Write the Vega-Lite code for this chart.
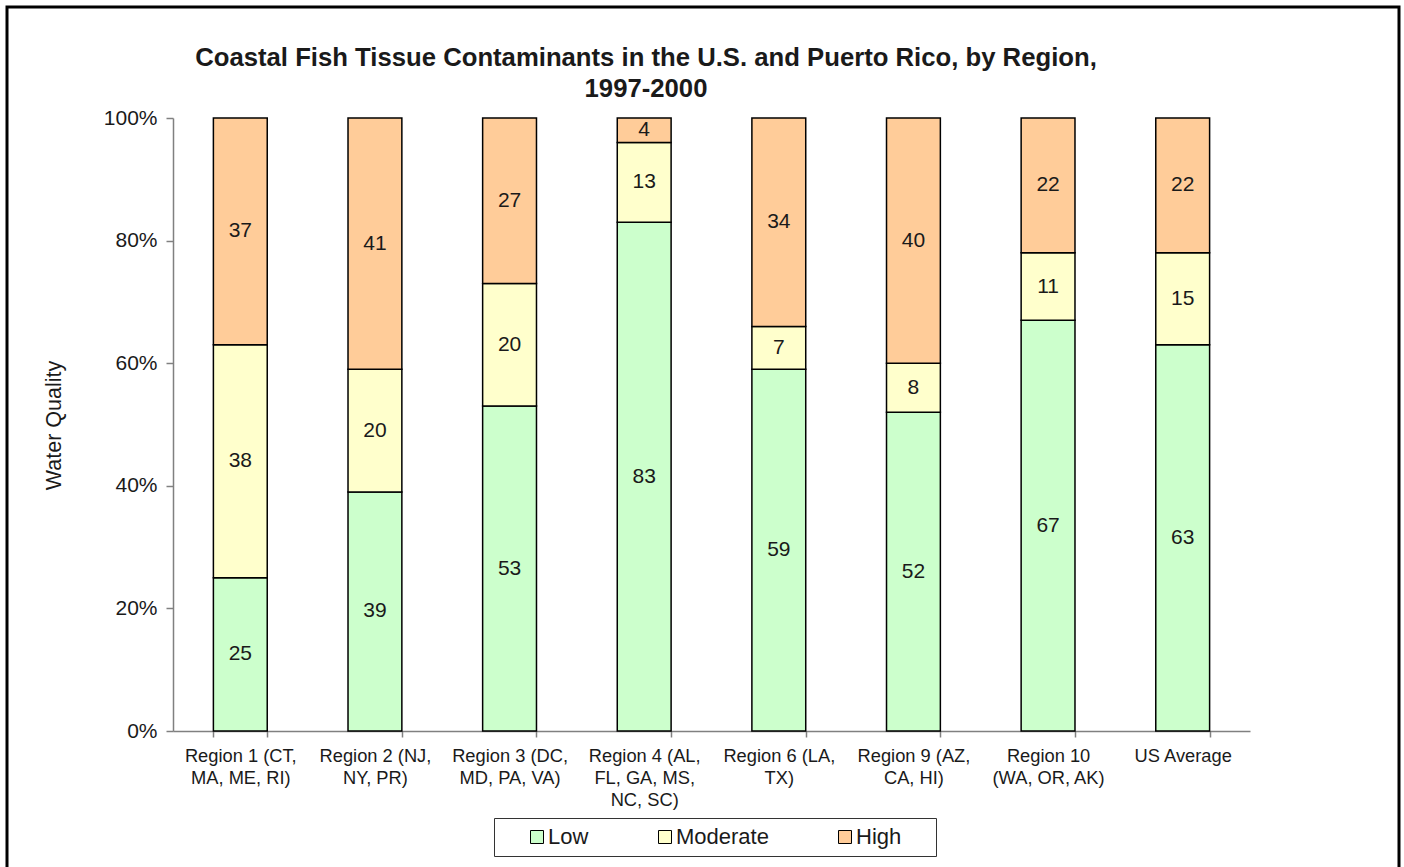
{
  "$schema": "https://vega.github.io/schema/vega-lite/v6.json",
  "width": 1392,
  "height": 865,
  "autosize": "none",
  "padding": {"left": 7, "top": 7, "right": 5, "bottom": -5},
  "background": "white",
  "config": {
    "view": {"stroke": "black", "strokeWidth": 3, "fill": "white"},
    "font": "Liberation Sans"
  },
  "title": {
    "text": ["Coastal Fish Tissue Contaminants in the U.S. and Puerto Rico, by Region,", "1997-2000"],
    "fontSize": 25.7,
    "fontWeight": "bold",
    "lineHeight": 31,
    "color": "#1a1a1a",
    "anchor": "middle",
    "dx": -57,
    "offset": -96
  },
  "data": {
    "values": [
      {"region": "Region 1 (CT,|MA, ME, RI)", "level": "Low", "k": 1, "value": 25},
      {"region": "Region 1 (CT,|MA, ME, RI)", "level": "Moderate", "k": 2, "value": 38},
      {"region": "Region 1 (CT,|MA, ME, RI)", "level": "High", "k": 3, "value": 37},
      {"region": "Region 2 (NJ,|NY, PR)", "level": "Low", "k": 1, "value": 39},
      {"region": "Region 2 (NJ,|NY, PR)", "level": "Moderate", "k": 2, "value": 20},
      {"region": "Region 2 (NJ,|NY, PR)", "level": "High", "k": 3, "value": 41},
      {"region": "Region 3 (DC,|MD, PA, VA)", "level": "Low", "k": 1, "value": 53},
      {"region": "Region 3 (DC,|MD, PA, VA)", "level": "Moderate", "k": 2, "value": 20},
      {"region": "Region 3 (DC,|MD, PA, VA)", "level": "High", "k": 3, "value": 27},
      {"region": "Region 4 (AL,|FL, GA, MS,|NC, SC)", "level": "Low", "k": 1, "value": 83},
      {"region": "Region 4 (AL,|FL, GA, MS,|NC, SC)", "level": "Moderate", "k": 2, "value": 13},
      {"region": "Region 4 (AL,|FL, GA, MS,|NC, SC)", "level": "High", "k": 3, "value": 4},
      {"region": "Region 6 (LA,|TX)", "level": "Low", "k": 1, "value": 59},
      {"region": "Region 6 (LA,|TX)", "level": "Moderate", "k": 2, "value": 7},
      {"region": "Region 6 (LA,|TX)", "level": "High", "k": 3, "value": 34},
      {"region": "Region 9 (AZ,|CA, HI)", "level": "Low", "k": 1, "value": 52},
      {"region": "Region 9 (AZ,|CA, HI)", "level": "Moderate", "k": 2, "value": 8},
      {"region": "Region 9 (AZ,|CA, HI)", "level": "High", "k": 3, "value": 40},
      {"region": "Region 10|(WA, OR, AK)", "level": "Low", "k": 1, "value": 67},
      {"region": "Region 10|(WA, OR, AK)", "level": "Moderate", "k": 2, "value": 11},
      {"region": "Region 10|(WA, OR, AK)", "level": "High", "k": 3, "value": 22},
      {"region": "US Average", "level": "Low", "k": 1, "value": 63},
      {"region": "US Average", "level": "Moderate", "k": 2, "value": 15},
      {"region": "US Average", "level": "High", "k": 3, "value": 22}
    ]
  },
  "encoding": {
    "x": {
      "field": "region",
      "type": "nominal",
      "sort": null,
      "scale": {"range": [166, 1243], "paddingInner": 0.6, "paddingOuter": 0.3},
      "axis": {
        "title": null,
        "labelExpr": "split(datum.label, '|')",
        "labelAngle": 0,
        "labelFontSize": 18.3,
        "labelLineHeight": 22,
        "labelColor": "#1a1a1a",
        "labelPadding": 10,
        "labelLimit": 300,
        "tickBand": "extent",
        "tickSize": 6,
        "tickColor": "#808080",
        "tickWidth": 1.5,
        "domainColor": "#808080",
        "domainWidth": 1.5,
        "offset": -141
      }
    },
    "y": {
      "field": "value",
      "type": "quantitative",
      "stack": "zero",
      "scale": {"domain": [0, 100], "range": [724, 111]},
      "axis": {
        "values": [0, 20, 40, 60, 80, 100],
        "labelExpr": "datum.value + '%'",
        "labelFontSize": 21,
        "labelColor": "#1a1a1a",
        "labelPadding": 9,
        "tickSize": 7,
        "tickColor": "#808080",
        "tickWidth": 1.5,
        "domainColor": "#808080",
        "domainWidth": 1.5,
        "grid": false,
        "offset": -166,
        "title": "Water Quality",
        "titleFontSize": 21.5,
        "titleFontWeight": "normal",
        "titleColor": "#1a1a1a",
        "titleX": -108,
        "titleY": 418
      }
    },
    "order": {"field": "k", "type": "quantitative"}
  },
  "layer": [
    {
      "mark": {"type": "bar", "stroke": "black", "strokeWidth": 1.5},
      "encoding": {
        "color": {
          "field": "level",
          "type": "nominal",
          "scale": {"domain": ["Low", "Moderate", "High"], "range": ["#CCFFCC", "#FFFFCC", "#FFCC99"]},
          "legend": {
            "title": "\u00a0",
            "titleOrient": "right",
            "titlePadding": 27,
            "titleFontSize": 22,
            "orient": "none",
            "legendX": 487,
            "legendY": 811,
            "direction": "horizontal",
            "padding": 8,
            "strokeColor": "#333333",
            "fillColor": "white",
            "symbolType": "square",
            "symbolSize": 169,
            "symbolStrokeColor": "black",
            "symbolStrokeWidth": 1,
            "symbolOpacity": 1,
            "symbolOffset": 24,
            "labelFontSize": 22,
            "labelColor": "#1a1a1a",
            "labelOffset": 0,
            "columnPadding": 41
          }
        }
      }
    },
    {
      "mark": {"type": "text", "fontSize": 21, "color": "#1a1a1a"},
      "encoding": {
        "y": {"field": "value", "type": "quantitative", "stack": "zero", "bandPosition": 0.5},
        "detail": {"field": "level"},
        "text": {"field": "value", "type": "quantitative"}
      }
    }
  ]
}
